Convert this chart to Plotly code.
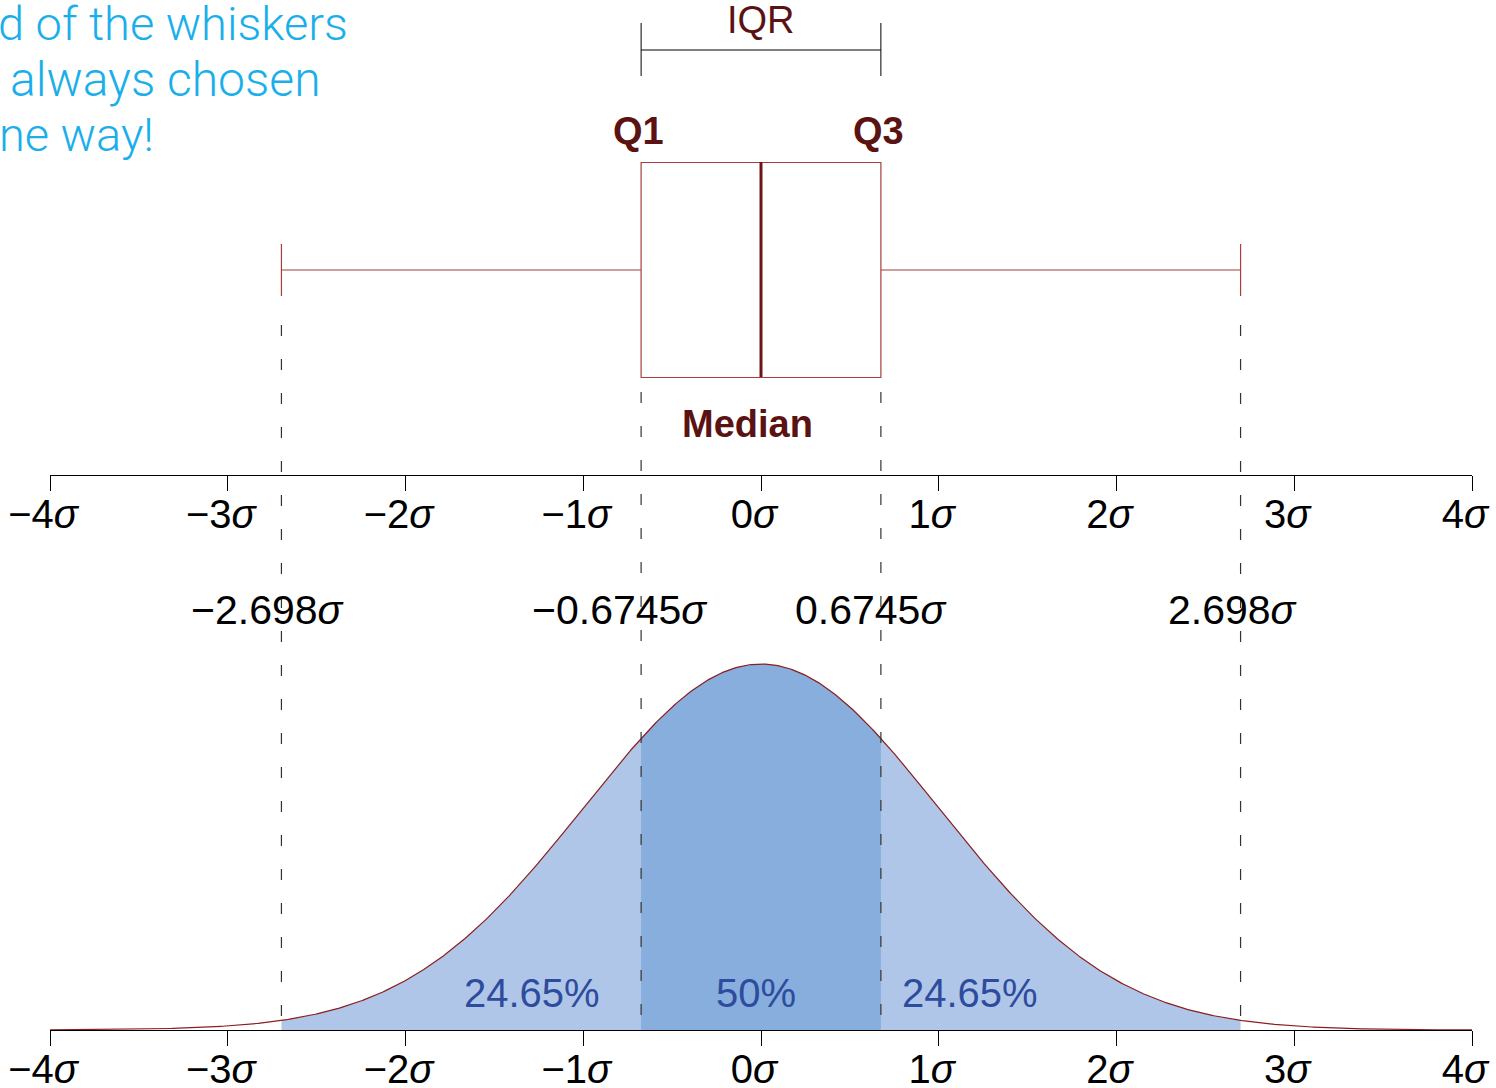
import numpy as np
import plotly.graph_objects as go

# ---- data ----
mu, sd = 0.0, 1.0
tick_vals = [-4, -3, -2, -1, 0, 1, 2, 3, 4]
tick_text = ["−4<i>σ</i>", "−3<i>σ</i>", "−2<i>σ</i>", "−1<i>σ</i>", "0<i>σ</i>",
             "1<i>σ</i>", "2<i>σ</i>", "3<i>σ</i>", "4<i>σ</i>"]
q1, median, q3 = -0.6745, 0.0, 0.6745
lower_whisker, upper_whisker = -2.698, 2.698
marker_vals = [lower_whisker, q1, q3, upper_whisker]
marker_labels = ["−2.698<i>σ</i>", "−0.6745<i>σ</i>", "0.6745<i>σ</i>", "2.698<i>σ</i>"]
pct_labels = ["24.65%", "50%", "24.65%"]
pct_pos = [-1.288, -0.028, 1.176]
note_lines = ["d of the whiskers", "always chosen", "ne way!"]

# ---- geometry helpers (pixel layout of the page) ----
W, H = 1496, 1088
ML, MR, MT, MB = 50, 24, 0, 58
PLOT_H = H - MT - MB
peak = 1.0 / (sd * np.sqrt(2 * np.pi))
PEAK_PX = 366.0
YMAX = peak * PLOT_H / PEAK_PX


def py(p):
    return (PLOT_H - (p - MT)) / PLOT_H * YMAX


def pdf(x):
    return np.exp(-0.5 * ((x - mu) / sd) ** 2) / (sd * np.sqrt(2 * np.pi))


FONT = "Liberation Sans, Arial, sans-serif"
MAROON = "#5A1212"
BOXC = "#A63F3C"

fig = go.Figure()

# shaded regions
xo = np.linspace(lower_whisker, upper_whisker, 400)
fig.add_trace(go.Scatter(x=xo, y=pdf(xo), fill="tozeroy", mode="lines",
                         line=dict(width=0), fillcolor="#B0C6E8", hoverinfo="skip"))
xm = np.linspace(q1, q3, 200)
fig.add_trace(go.Scatter(x=xm, y=pdf(xm), fill="tozeroy", mode="lines",
                         line=dict(width=0), fillcolor="#87AEDD", hoverinfo="skip"))
xf = np.linspace(-4, 4, 800)
fig.add_trace(go.Scatter(x=xf, y=pdf(xf), mode="lines",
                         line=dict(color="#8B1E1E", width=1.2), hoverinfo="skip"))

# box plot (on upper axis)
box_y = py(270)
box_w = py(162) - py(377)
fig.add_trace(go.Box(q1=[q1], median=[median], q3=[q3],
                     lowerfence=[lower_whisker], upperfence=[upper_whisker],
                     y=[box_y], width=box_w, orientation="h",
                     whiskerwidth=52 / 215, fillcolor="white",
                     line=dict(color=BOXC, width=1.2), xaxis="x2", yaxis="y",
                     hoverinfo="skip", boxpoints=False))

shapes = []
# median line
shapes.append(dict(type="line", xref="x", yref="y", x0=median, x1=median,
                   y0=py(377), y1=py(162), line=dict(color="#6B1515", width=3)))
# dashed guides
for v in marker_vals:
    top = 325 if abs(v) > 1.5 else 392
    shapes.append(dict(type="line", xref="x", yref="y", x0=v, x1=v,
                       y0=py(top), y1=0, layer="above",
                       line=dict(color="#333333", width=1.2, dash="11px,23px")))
# IQR bracket
shapes.append(dict(type="line", xref="x", yref="y", x0=q1, x1=q3, y0=py(50), y1=py(50),
                   line=dict(color="black", width=1)))
for v in (q1, q3):
    shapes.append(dict(type="line", xref="x", yref="y", x0=v, x1=v, y0=py(23), y1=py(76),
                       line=dict(color="black", width=1)))

ann = []
ann.append(dict(x=0, y=py(20), xref="x", yref="y", text="IQR", showarrow=False,
                font=dict(family=FONT, size=38, color=MAROON)))
ann.append(dict(x=q1, y=py(131), xref="x", yref="y", xshift=-3, text="<b>Q1</b>", showarrow=False,
                font=dict(family=FONT, size=38, color=MAROON)))
ann.append(dict(x=q3, y=py(131), xref="x", yref="y", xshift=-2, text="<b>Q3</b>", showarrow=False,
                font=dict(family=FONT, size=38, color=MAROON)))
ann.append(dict(x=median, y=py(424), xref="x", yref="y", xshift=-14, text="<b>Median</b>",
                showarrow=False, font=dict(family=FONT, size=38, color=MAROON)))
for v, t, s in zip(marker_vals, marker_labels, [-14, -22, -10, -8]):
    ann.append(dict(x=v, y=py(610), xref="x", yref="y", xshift=s, text=t, showarrow=False,
                    font=dict(family=FONT, size=41, color="black")))
for v, t in zip(pct_pos, pct_labels):
    ann.append(dict(x=v, y=py(993), xref="x", yref="y", text=t, showarrow=False,
                    font=dict(family=FONT, size=40, color="#2E4C9E")))
for t, lx, cy, fs in zip(note_lines, [-4, 8, -3], [23, 79, 134], [47, 48, 47]):
    ann.append(dict(x=(lx - ML) / (W - ML - MR), y=py(cy), xref="paper", yref="y",
                    xanchor="left", text=t, showarrow=False,
                    font=dict(family="Roboto, sans-serif", size=fs, color="#1AAFEA", weight=300)))

axis_common = dict(range=[-4, 4], tickvals=tick_vals, ticktext=tick_text,
                   ticks="outside", ticklen=15, tickwidth=1, tickcolor="black",
                   showline=True, linecolor="black", linewidth=1, showgrid=False,
                   zeroline=False, tickfont=dict(family=FONT, size=40, color="black"),
                   ticklabelstandoff=-11, ticklabelshift=-7,
                   automargin=False, fixedrange=True)

fig.update_layout(
    width=W, height=H,
    margin=dict(l=ML, r=MR, t=MT, b=MB),
    paper_bgcolor="white", plot_bgcolor="white",
    showlegend=False,
    xaxis=dict(**axis_common),
    xaxis2=dict(**axis_common, overlaying="x", anchor="free",
                position=(PLOT_H - 475) / PLOT_H, side="bottom"),
    yaxis=dict(range=[0, YMAX], visible=False, fixedrange=True),
    shapes=shapes, annotations=ann,
)

fig.write_html("out.html", config={"displayModeBar": False},
               post_script="document.body.style.margin='0';document.body.style.overflow='hidden';")
